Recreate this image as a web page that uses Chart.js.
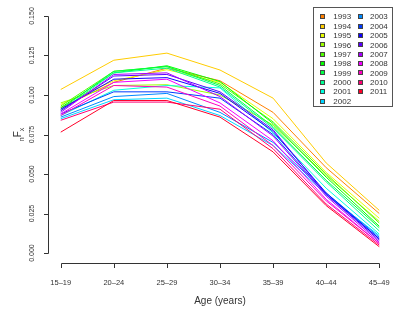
<!DOCTYPE html>
<html>
<head>
<meta charset="utf-8">
<script src="https://cdn.jsdelivr.net/npm/chart.js@4/dist/chart.umd.min.js"></script>
<style>
  html, body { margin: 0; padding: 0; background: #fff; }
  #wrap { width: 399px; height: 311px; }
</style>
</head>
<body>
<div id="wrap"><canvas id="myChart" width="399" height="311"></canvas></div>
<script>
// age groups on the x axis
const ageGroups = ['15–19', '20–24', '25–29', '30–34', '35–39', '40–44', '45–49'];
const yTicks = [0, 0.025, 0.05, 0.075, 0.1, 0.125, 0.15];

const years = [1993, 1994, 1995, 1996, 1997, 1998, 1999, 2000, 2001, 2002,
               2003, 2004, 2005, 2006, 2007, 2008, 2009, 2010, 2011];

const colors = ['#FF8000', '#FFCC00', '#E7FF00', '#9CFF00', '#50FF00', '#04FF00', '#00FF47',
                '#00FF93', '#00FFDE', '#00D4FF', '#0088FF', '#003CFF', '#0F00FF', '#5B00FF',
                '#A700FF', '#F200FF', '#FF00C0', '#FF0074', '#FF0029'];

// nFx by year
const f1993 = [0.092, 0.108, 0.117, 0.109, 0.089, 0.054, 0.025];
const f1994 = [0.1035, 0.122, 0.1265, 0.1158, 0.098, 0.057, 0.027];
const f1995 = [0.094, 0.109, 0.116, 0.108, 0.085, 0.051, 0.022];
const f1996 = [0.095, 0.106, 0.1065, 0.100, 0.081, 0.049, 0.020];
const f1997 = [0.093, 0.115, 0.118, 0.107, 0.083, 0.050, 0.019];
const f1998 = [0.092, 0.114, 0.1185, 0.1085, 0.082, 0.048, 0.017];
const f1999 = [0.091, 0.115, 0.118, 0.106, 0.080, 0.046, 0.016];
const f2000 = [0.090, 0.114, 0.117, 0.105, 0.079, 0.045, 0.014];
const f2001 = [0.087, 0.103, 0.106, 0.1045, 0.076, 0.041, 0.012];
const f2002 = [0.085, 0.097, 0.098, 0.087, 0.068, 0.037, 0.011];
const f2003 = [0.086, 0.099, 0.101, 0.089, 0.070, 0.038, 0.010];
const f2004 = [0.088, 0.102, 0.102, 0.098, 0.075, 0.037, 0.009];
const f2005 = [0.091, 0.110, 0.111, 0.101, 0.077, 0.038, 0.009];
const f2006 = [0.090, 0.112, 0.113, 0.102, 0.078, 0.037, 0.008];
const f2007 = [0.089, 0.113, 0.114, 0.099, 0.074, 0.036, 0.007];
const f2008 = [0.088, 0.108, 0.110, 0.095, 0.071, 0.034, 0.006];
const f2009 = [0.087, 0.106, 0.105, 0.093, 0.068, 0.033, 0.006];
const f2010 = [0.084, 0.0955, 0.0955, 0.091, 0.066, 0.031, 0.005];
const f2011 = [0.0765, 0.0965, 0.0965, 0.086, 0.064, 0.030, 0.004];

const series = [f1993, f1994, f1995, f1996, f1997, f1998, f1999, f2000, f2001, f2002,
                f2003, f2004, f2005, f2006, f2007, f2008, f2009, f2010, f2011];

const FONT = '"Liberation Sans", Arial, sans-serif';
const INK = '#333';

// R style axes + legend drawn on top of the chart
const rDecor = {
    id: 'rDecor',
    afterDraw(chart) {
        const c = chart.ctx;
        const xs = chart.scales.x, ys = chart.scales.y;
        const area = chart.chartArea;
        c.save();
        c.strokeStyle = INK;
        c.fillStyle = INK;
        c.lineWidth = 1;

        // y axis
        const ax = Math.round(area.left) + 0.5;
        c.beginPath();
        c.moveTo(ax, Math.round(ys.getPixelForValue(0)) + 0.5);
        c.lineTo(ax, Math.round(ys.getPixelForValue(0.15)) + 0.5);
        yTicks.forEach(v => {
            const y = Math.round(ys.getPixelForValue(v)) + 0.5;
            c.moveTo(ax, y);
            c.lineTo(ax - 4.5, y);
        });
        c.stroke();
        c.font = '7px ' + FONT;
        c.textAlign = 'center';
        c.textBaseline = 'middle';
        yTicks.forEach(v => {
            const y = ys.getPixelForValue(v);
            c.save();
            c.translate(32, y);
            c.rotate(-Math.PI / 2);
            c.fillText(v.toFixed(3), 0, 0);
            c.restore();
        });

        // x axis
        const ay = Math.round(area.bottom) + 0.5;
        c.beginPath();
        c.moveTo(Math.round(xs.getPixelForValue(1)) + 0.5, ay);
        c.lineTo(Math.round(xs.getPixelForValue(ageGroups.length)) + 0.5, ay);
        ageGroups.forEach((g, i) => {
            const x = Math.round(xs.getPixelForValue(i + 1)) + 0.5;
            c.moveTo(x, ay);
            c.lineTo(x, ay + 4.5);
        });
        c.stroke();
        c.font = '7.5px ' + FONT;
        ageGroups.forEach((g, i) => {
            c.fillText(g, xs.getPixelForValue(i + 1), 282.5);
        });
        c.font = '10px ' + FONT;
        c.fillText('Age (years)', (area.left + area.right) / 2, 301);

        // y title: nFx
        c.save();
        c.translate(17, (area.top + area.bottom) / 2);
        c.rotate(-Math.PI / 2);
        c.textAlign = 'left';
        c.textBaseline = 'alphabetic';
        c.font = '10px ' + FONT;
        const wF = c.measureText('F').width;
        c.font = '7px ' + FONT;
        const wn = c.measureText('n').width;
        const wx = c.measureText('x').width;
        const x0 = -(wn + wF + wx) / 2;
        c.fillText('n', x0, 6.5);
        c.font = '10px ' + FONT;
        c.fillText('F', x0 + wn, 3.5);
        c.font = '7px ' + FONT;
        c.fillText('x', x0 + wn + wF, 6.5);
        c.restore();

        // legend
        c.strokeStyle = '#555';
        c.strokeRect(313.5, 7.5, 79, 99);
        c.font = '8px ' + FONT;
        c.textAlign = 'left';
        c.textBaseline = 'middle';
        years.forEach((yr, i) => {
            const col = i < 10 ? 0 : 1;
            const row = i % 10;
            const sx = col === 0 ? 322.5 : 360;
            const sy = 16.7 + row * 9.37;
            c.fillStyle = colors[i];
            c.fillRect(Math.round(sx - 2.5), Math.round(sy - 2.5), 5, 5);
            c.strokeStyle = '#444';
            c.strokeRect(Math.round(sx - 2.5) + 0.5, Math.round(sy - 2.5) + 0.5, 4, 4);
            c.fillStyle = INK;
            c.fillText(String(yr), col === 0 ? 333.3 : 370, sy + 0.5);
        });
        c.restore();
    }
};

const ctx = document.getElementById('myChart').getContext('2d');

const data = {
    datasets: years.map((yr, i) => ({
        label: String(yr),
        data: series[i].map((v, j) => ({ x: j + 1, y: v })),
        borderColor: colors[i],
        backgroundColor: colors[i],
        borderWidth: 1,
        pointRadius: 0,
        fill: false,
        tension: 0,
        order: years.length - i
    }))
};

const config = {
    type: 'line',
    data: data,
    options: {
        responsive: false,
        animation: false,
        layout: {
            padding: { left: 48, right: 7, top: 6.5, bottom: 48.5 }
        },
        plugins: {
            legend: { display: false },
            tooltip: { enabled: false }
        },
        scales: {
            x: { type: 'linear', display: false, min: 0.76, max: 7.24 },
            y: { type: 'linear', display: false, min: -0.006, max: 0.156 }
        }
    },
    plugins: [rDecor]
};

const myChart = new Chart(ctx, config);
</script>
</body>
</html>
